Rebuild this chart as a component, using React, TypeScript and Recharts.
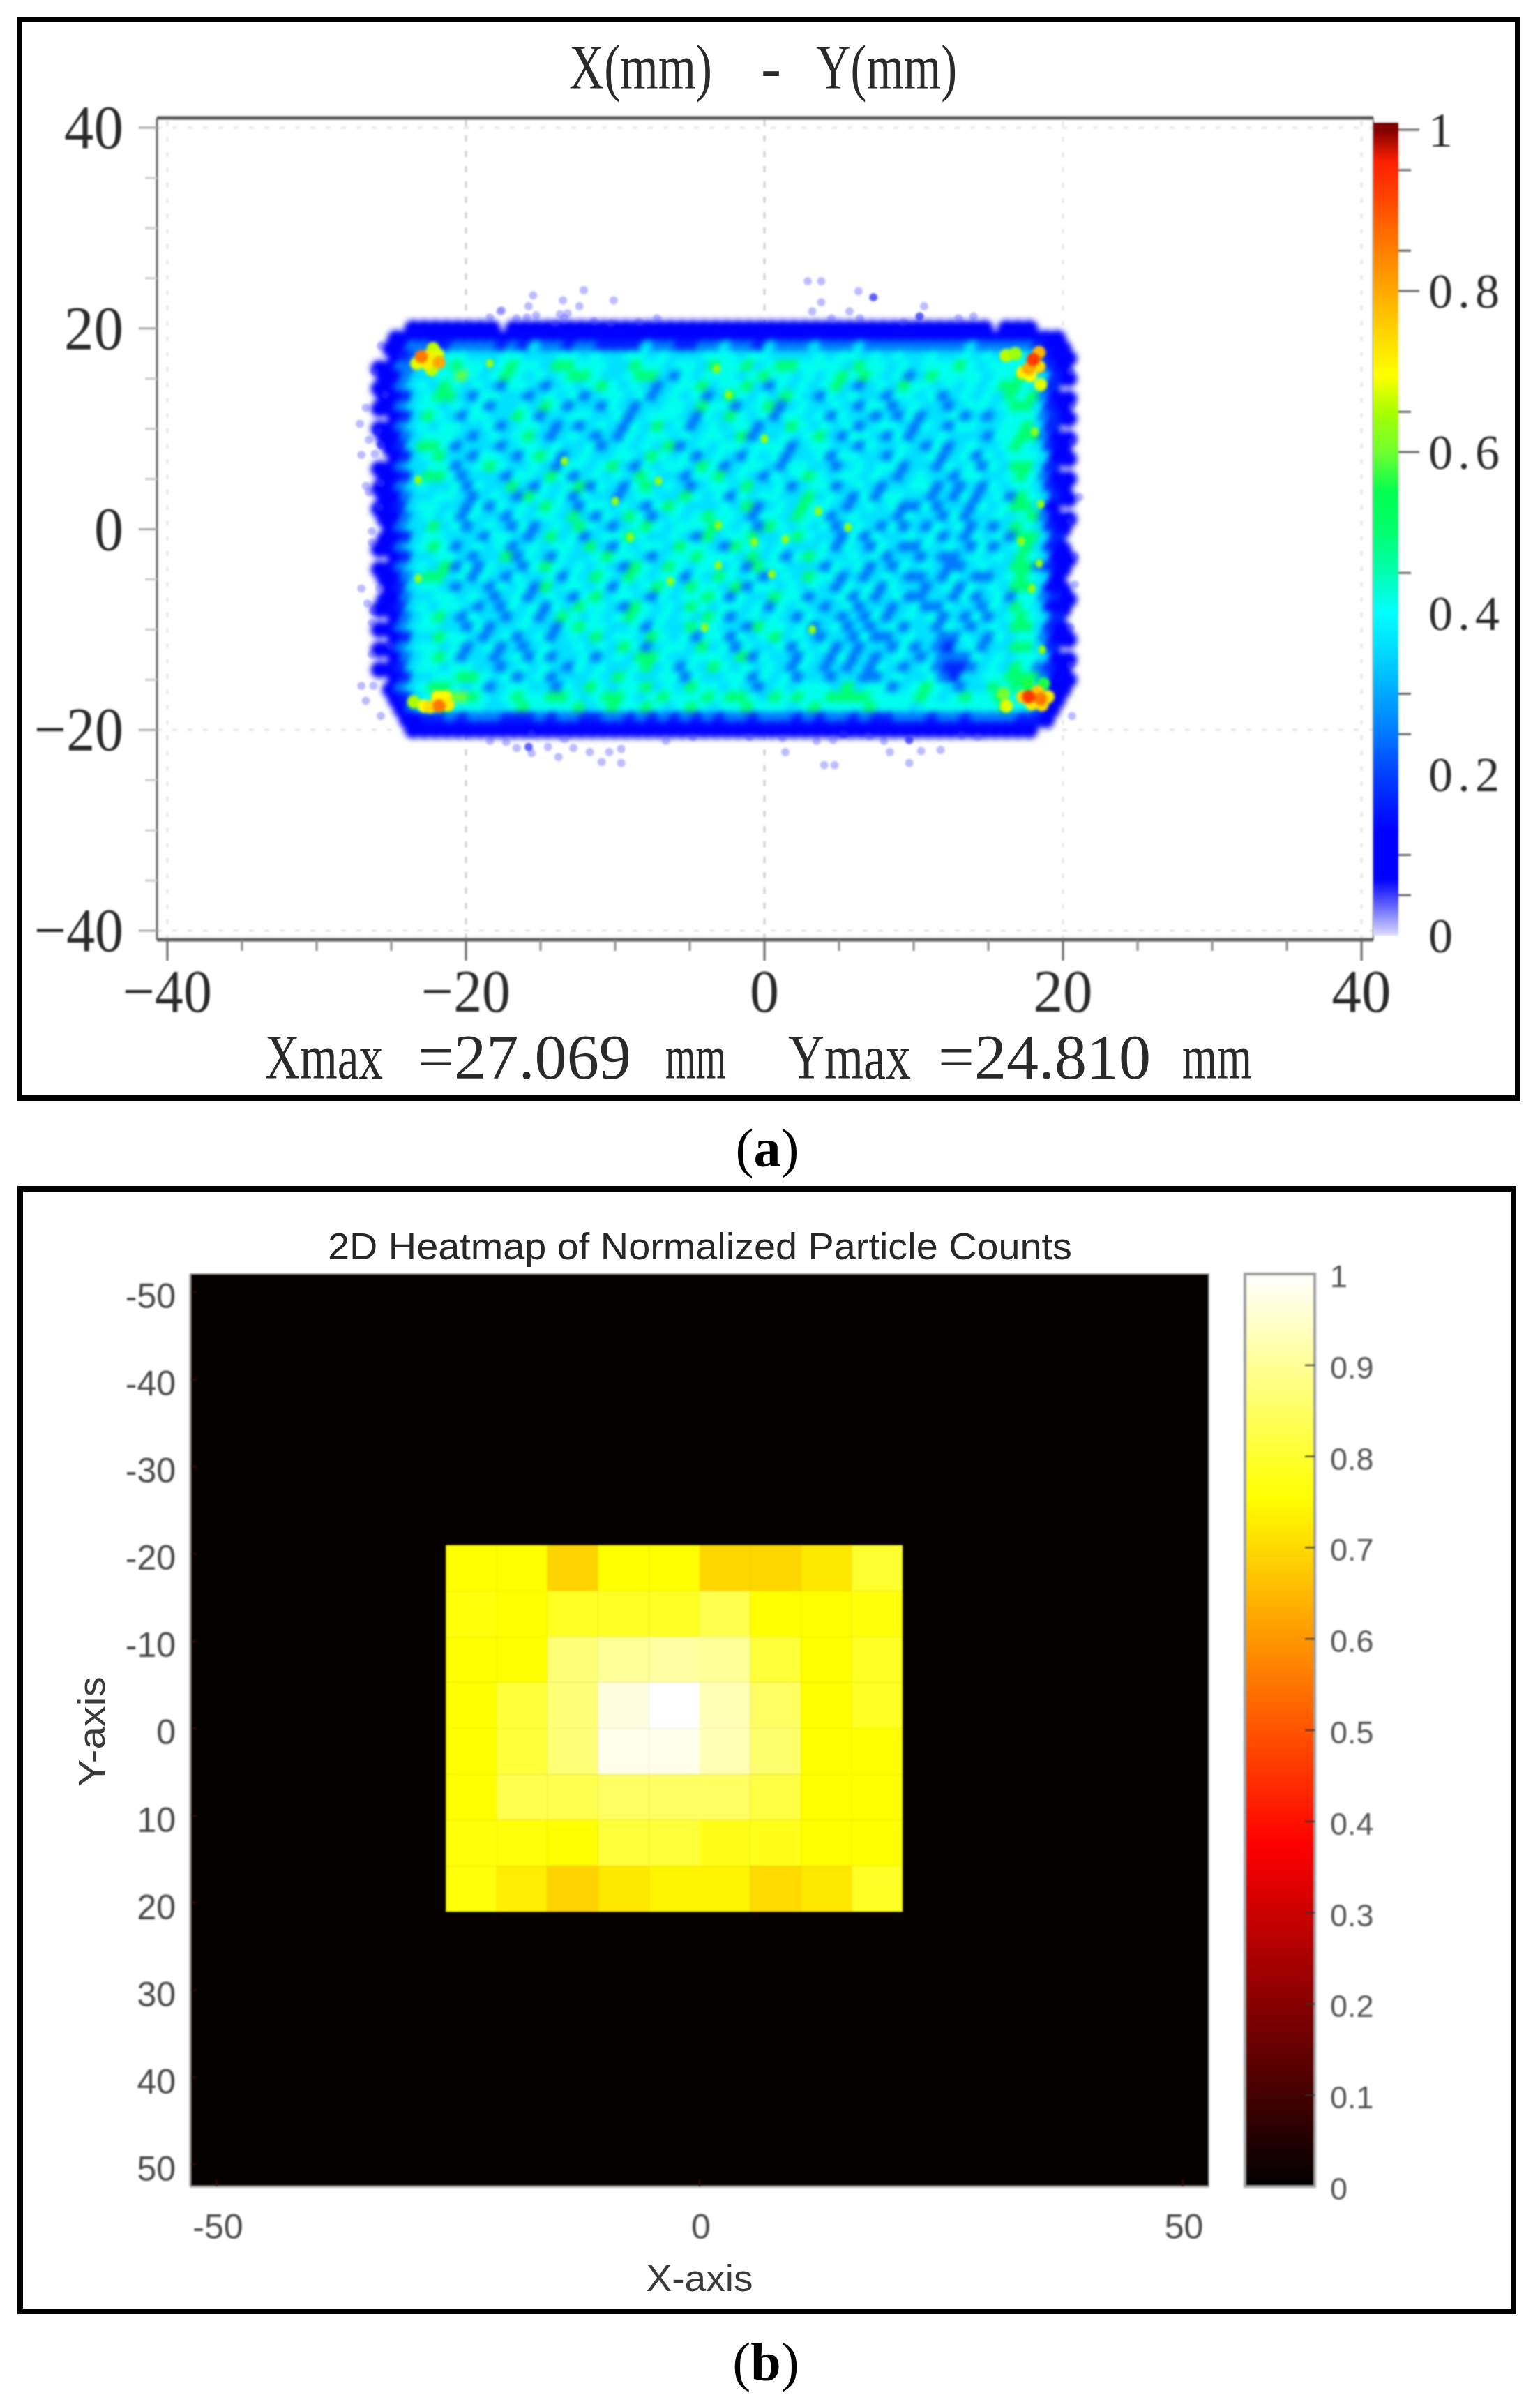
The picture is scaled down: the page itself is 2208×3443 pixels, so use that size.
import React from "react";
import { ScatterChart, Scatter, XAxis, YAxis, ReferenceLine, ReferenceArea, ComposedChart, Bar } from "recharts";

// ---------- panel (a) data ----------
const aMajor = [-40, -20, 0, 20, 40];
const aMinor = [-35, -30, -25, -15, -10, -5, 5, 10, 15, 25, 30, 35];
const aGridStrong = [-20, 0];
const aGridFaintX = [-40, 20, 40];
const aGridFaintY = [40, -20, -40];
const jetLabels = [1, 0.8, 0.6, 0.4, 0.2, 0];
const jetTickMarks = [0.95, 0.85, 0.65, 0.45, 0.3, 0.25, 0.1, 0.05];
const jetStops: [number, string][] = [
  [0, "#dcdcff"], [0.04, "#5a5aff"], [0.07, "#0000ff"], [0.13, "#0000ff"], [0.2, "#0040ff"], [0.25, "#0078ff"],
  [0.3, "#00a8ff"], [0.35, "#00d8ff"], [0.4, "#00ffff"], [0.45, "#00ffb0"], [0.5, "#00ff70"], [0.55, "#00ff50"],
  [0.6, "#70ff30"], [0.65, "#a8ff00"], [0.695, "#ffff00"], [0.735, "#ffe000"], [0.8, "#ffa800"], [0.85, "#ff8000"],
  [0.92, "#ff4000"], [0.96, "#ff2000"], [0.98, "#c01000"], [1, "#800000"],
];
const levels: Record<string, number> = { "1": 0.08, "2": 0.17, "3": 0.25, "4": 0.36, "5": 0.41, "6": 0.5, "7": 0.6 };
// level per 0.75 mm x 1 mm cell; spaces only group columns
const densityRows = [
  "...1111111 1.11111111 1111111111 1111111111 1111111111 11111.111. ..",
  ".111111111 1111111111 1111111111 1111111111 1111111111 1111111111 1.",
  ".113322333 3232433233 2222433223 3433243334 3334333333 3334333332 11",
  ".123445544 4554445545 4455454445 5545544445 4554545445 4454545542 11",
  "1133455655 4565546655 5446554554 6556456655 5546554545 5565455553 21",
  "1134455754 5654545665 4456643545 5545655454 5656545346 5555455654 21",
  "1134546545 4355434545 6545434556 4556435454 5643454655 4545456654 2.",
  "1124566435 5443454534 5545345453 4654546543 5454435545 3454546563 11",
  "1134554545 3445465344 3543445546 5534563454 4543553454 4345545664 21",
  ".124654355 4465344554 4534555435 4654535545 3544343534 4534345553 21",
  "1134545544 5345543434 5435464534 5455344654 5453455435 4355445564 2.",
  "1134555434 5456434543 4354554545 5463445456 4355435344 5444355663 11",
  ".124665344 4345545445 3454546345 4554555345 5443544543 5345445654 21",
  ".124564435 5435653454 4554654534 5435453445 3554435445 3453545554 11",
  "1134455345 6544543554 5643545546 5345543554 4345455344 3545354664 2.",
  "1124665344 4355465345 4546544355 6454354565 4554543454 4355445653 11",
  "1134544535 4464354563 5435645434 5546445345 5345434455 3434354554 21",
  "1134455434 5436545354 4345544654 5354554464 5435355443 4353453654 21",
  "1124554435 3545465435 5454356544 4546345465 5434545335 3443545664 1.",
  "1134545354 4354554643 5465345456 5543554655 3454443544 3534454563 11",
  ".134464534 5435345465 4345654555 6545365454 5345435343 5453434654 21",
  "1124554443 5543464534 5565445436 4556445654 4353544545 3435453664 2.",
  "1134565345 4534545546 4354554655 4365545444 5354354335 4543534564 21",
  ".124455434 4635435445 6554345565 5546453565 4454534434 3345454654 11",
  "1134546353 5443565454 5436546545 5453655444 3545343545 4334544663 21",
  "1134664535 4354453546 5465455354 6545345465 5343454334 3543345654 1.",
  ".124554344 3545364554 5354565465 5463554545 4354535443 4535454664 11",
  "1134455454 3453454356 4554354556 5354465534 4535345334 4353453553 21",
  "1124545543 4354535465 5436545465 4554535454 3453443453 3544354654 11",
  ".134564354 4345346545 4565454546 5345454354 4343534545 3435345654 2.",
  "1134554435 3445443565 5445354465 5443655453 4534345344 3543454664 21",
  ".124465543 4534534546 4554654535 5354564543 4435334544 3354354553 11",
  "1134554534 5343454454 5465345546 4535445354 5343443534 3245344664 2.",
  ".134565344 3453534453 4546654455 5463544354 3534345434 3335454554 11",
  "1124554554 4345454354 5445645354 6545454354 3434354345 3223454653 21",
  ".124455665 4534534445 4654455354 4553545344 3443345445 3244556663 11",
  ".134566545 3455443546 5455645465 5454345455 5464553456 5434465654 11",
  ".124567765 4565566545 6654565556 5665465655 6666555565 4565565564 1.",
  "..13556555 4456555564 5655654565 4556555456 5555655545 5555556553 1.",
  "..11223233 3222323322 3323232323 2332333232 3323223332 3323333221 ..",
  "...1111111 1111111111 1111111111 1111111111 1111111111 111111111. ..",
];
const cornerSpots: [number, number, number][] = [
  [-22.2, 18, 0.66], [-23.3, 16.5, 0.68], [-22.3, 15.9, 0.66], [-21.9, 17.4, 0.68], [-22.6, 16.5, 0.72], [-22.6, 17.2, 0.72], [-21.8, 16.6, 0.8], [-23, 17.2, 0.86],
  [16.2, 17.3, 0.66], [16.8, 17.5, 0.64], [18.5, 14.4, 0.68], [17.3, 15.6, 0.72], [17.8, 15.3, 0.7], [18.4, 16.2, 0.74], [18.4, 17.6, 0.78], [17.7, 16, 0.8], [18, 16.9, 0.93],
  [-23.5, -17.2, 0.65], [-21.9, -16.7, 0.7], [-21.4, -16.7, 0.7], [-22.8, -17.6, 0.7], [-21.2, -17.5, 0.72], [-22.4, -17.7, 0.74], [-21.8, -17.6, 0.86],
  [17.6, -15.4, 0.56], [18.7, -15.4, 0.56], [16, -16.4, 0.6], [16.2, -17.6, 0.68], [17.9, -17.4, 0.72], [19, -16.7, 0.72], [18.6, -17.5, 0.74], [17.3, -16.7, 0.75], [18.3, -16.2, 0.76], [18.5, -16.9, 0.86], [17.7, -16.7, 0.93],
];
const specks: [number, number][] = [
  [-18.4, 16.5], [-7.1, 4.8], [-13.4, 6.8], [-10, 2.8], [-23.2, 4.9], [-9, -0.8], [-6.3, -5.2], [-23.2, -4.9], [-4, -9.8], [-3.1, -3.6],
  [-3.2, 16], [-2.4, 13.4], [0, 9], [3.6, 1.8], [5.6, 0.2], [1.4, -1], [-3.1, 0.4], [18.1, 9.7], [18.5, 2.5], [17.2, -1.2], [18.4, -3.4],
  [17.9, -5.9], [18.6, -12], [-0.7, -1.3], [0.5, -4.5], [3.2, -10],
];
const faintStrays: [number, number][] = [
  [-17.6, 21.8], [-18.4, 21.1], [-16.6, 21], [-15.3, 21.3], [-15.9, 21.1], [-13.7, 21.4], [-13.4, 21], [-14, 20.5], [-11.4, 20.7], [-10.3, 20.5], [-8.4, 20.6], [-7.2, 21],
  [-12.1, 23.8], [-15.5, 23.3], [-15.8, 22.2], [-13.5, 22.8], [-12.4, 22.2], [-10.1, 22.8], [-17.7, 21.7], [-13.2, 21.5],
  [2.9, 24.7], [3.8, 24.7], [6.3, 23.7], [3.8, 22.6], [3.2, 21.7], [5.7, 21.7], [4.5, 21], [6.4, 21], [10.7, 22.2], [9.3, 20.6], [13, 21], [14, 21.2],
  [-25.7, 18.3], [-26.1, 15.7], [-25.4, 13.4], [-26.7, 12.1], [-27.1, 10.5], [-26.5, 8.9], [-27, 7.4], [-26.1, 7.5], [-25.7, 4.6], [-26.5, 3.7], [-26.7, 4.3], [-25.8, 2.2], [-26.3, -0.2],
  [-26.3, -1.3], [-27, -5.9], [-25.8, -5.9], [-26.6, -7.4], [-26.2, -8.1], [-26.3, -9.3], [-25.1, -11.6], [-26.3, -12.5], [-27, -15.6], [-26.2, -15.6], [-26.7, -17.1], [-25.7, -18.6],
  [-18.4, -21.1], [-17.3, -21.2], [-16.6, -21.8], [-15.6, -22.3], [-14.5, -21.7], [-13.8, -22.7], [-12.8, -21.8], [-11.7, -22.2], [-10.4, -22.2], [-9.6, -21.9], [-9.6, -23.3], [-10.9, -23.2], [-13.4, -20.9], [-15.6, -20.4], [-6.6, -21.1], [-4.8, -20.7],
  [-1, -20.7], [1.2, -20.8], [1.4, -22.2], [3.5, -21.1], [4.6, -21], [7, -20.6], [8, -21.1], [8.4, -22.2], [10.5, -22.1], [11.8, -22], [9.7, -23.3], [4, -23.5], [4.7, -23.5], [13.2, -20.5], [14.3, -20.7],
  [20.5, 15.7], [20.6, 12.3], [20.6, 8.7], [21.1, 3.2], [20.5, 0.8], [20.8, -2.7], [20.8, -5.5], [20.5, -9.8], [20.5, -13.5], [20.6, -18.6],
];
const darkStrays: [number, number][] = [
  [-25.9, 9.8], [-25.7, 8.4], [7.3, 23.1], [10.4, 21.2], [-15.8, -21.7], [5.3, -20.4], [9.7, -21],
];
const aFooter: [string, number, number][] = [
  ["Xmax", 380, 169], ["=27.069", 599, 306], ["mm", 954, 87], ["Ymax", 1130, 176], ["=24.810", 1345, 305], ["mm", 1695, 100],
];

// ---------- panel (b) data ----------
const bXTicks = [-50, 0, 50];
const bYTicks = [-50, -40, -30, -20, -10, 0, 10, 20, 30, 40, 50];
const hotLabels = [1, 0.9, 0.8, 0.7, 0.6, 0.5, 0.4, 0.3, 0.2, 0.1, 0];
const hotStops: [number, string][] = [[0, "#000000"], [0.375, "#ff0000"], [0.755, "#ffff00"], [1, "#ffffff"]];
const binEdgesX = [-26.25, -21, -15.75, -10.5, -5.25, 0, 5.25, 10.5, 15.75, 21];
const binEdgesY = [-21, -15.75, -10.5, -5.25, 0, 5.25, 10.5, 15.75, 21];
const countRows = [
  [0.755, 0.755, 0.69, 0.755, 0.755, 0.695, 0.695, 0.72, 0.8],
  [0.765, 0.755, 0.79, 0.79, 0.79, 0.83, 0.755, 0.755, 0.765],
  [0.755, 0.755, 0.87, 0.9, 0.91, 0.9, 0.81, 0.755, 0.79],
  [0.755, 0.81, 0.87, 0.97, 1, 0.93, 0.85, 0.755, 0.79],
  [0.755, 0.81, 0.87, 0.98, 0.98, 0.93, 0.86, 0.755, 0.755],
  [0.755, 0.83, 0.83, 0.85, 0.85, 0.85, 0.82, 0.755, 0.755],
  [0.765, 0.765, 0.755, 0.81, 0.81, 0.78, 0.78, 0.755, 0.755],
  [0.765, 0.73, 0.69, 0.72, 0.74, 0.74, 0.7, 0.72, 0.79],
];

// ---------- helpers ----------
const rgb = (h: string) => [1, 3, 5].map((i) => parseInt(h.slice(i, i + 2), 16));
function mapColor(stops: [number, string][], v: number) {
  for (let i = 1; i < stops.length; i++) {
    if (v <= stops[i][0]) {
      const [a, ca] = stops[i - 1];
      const [b, cb] = stops[i];
      const t = (v - a) / (b - a);
      const A = rgb(ca);
      const B = rgb(cb);
      return `rgb(${A.map((c, k) => Math.round(c + (B[k] - c) * t)).join(",")})`;
    }
  }
  return stops[stops.length - 1][1];
}

const SERIF = "'Liberation Serif', serif";
const SANS = "'Liberation Sans', sans-serif";
const W = 2208;

// (a) geometry
const aH = 1700;
const aMargin = { top: 169, right: W - 1969, bottom: aH - 1347, left: 225 };
const aAxisMargin = { top: 169, right: W - 1969, bottom: aH - 1347 - 150, left: 25 };
const aDomX: [number, number] = [-40.7, 40.79];
const aDomY: [number, number] = [-40.9, 40.97];
const pxX = 21.4;
const pxY = 14.39;
const cellMmX = 0.75;

// odd rows sit half a cell over, so the field has no square lattice look
const heatCells = densityRows.flatMap((row, r) =>
  row.replace(/ /g, "").split("").flatMap((ch, c) =>
    levels[ch] === undefined ? [] : [{ x: -26.15 + (c + 0.5 + (r % 2) * 0.5) * cellMmX, y: 20.5 - (r + 0.5), v: levels[ch] }]
  )
);
const speckPoints = specks.map(([x, y]) => ({ x, y, v: 0.63 }));
const cornerPoints = cornerSpots.map(([x, y, v]) => ({ x, y, v }));
const toPts = (a: [number, number][]) => a.map(([x, y]) => ({ x, y }));

const CellShape = (p: any) => (
  <ellipse cx={p.cx} cy={p.cy} rx={(cellMmX * pxX) / 2 + 5} ry={pxY / 2 + 5} fill={mapColor(jetStops, p.payload?.v ?? p.v)} />
);
const SpeckShape = (p: any) => <ellipse cx={p.cx} cy={p.cy} rx={5.5} ry={6.5} fill={mapColor(jetStops, p.payload?.v ?? p.v)} />;
const CornerShape = (p: any) => <circle cx={p.cx} cy={p.cy} r={9.5} fill={mapColor(jetStops, p.payload?.v ?? p.v)} />;
const FaintShape = (p: any) => <circle cx={p.cx} cy={p.cy} r={6} fill="rgba(70,70,255,0.36)" />;
const DarkShape = (p: any) => <circle cx={p.cx} cy={p.cy} r={6} fill="rgba(30,30,255,0.7)" />;

const serifText = (x: number, y: number, s: string, len: number, size: number, anchor = "middle", spacing = false, key?: any) => (
  <text key={key} x={x} y={y} fontFamily={SERIF} fontSize={size} fill="#2a2a2a" textAnchor={anchor} textLength={len} lengthAdjust={spacing ? "spacing" : "spacingAndGlyphs"}>
    {s}
  </text>
);
const fmtA = (v: number) => (v < 0 ? `\u2212${Math.abs(v)}` : `${v}`);
const widthA = (v: number) => (v < 0 ? 128 : Math.abs(v) >= 10 ? 85 : 42);

const AXTick = (p: any) => {
  const v = p.payload.value;
  const major = aMajor.includes(v);
  return (
    <g>
      <line x1={p.x} x2={p.x} y1={1347} y2={1347 + (major ? 30 : 16)} stroke={major ? "#666" : "#8a8a8a"} strokeWidth={3} />
      {major && serifText(p.x, 1450, fmtA(v), widthA(v), 86)}
    </g>
  );
};
const AYTick = (p: any) => {
  const v = p.payload.value;
  const major = aMajor.includes(v);
  return (
    <g>
      <line x1={225 - (major ? 26 : 17)} x2={225} y1={p.y} y2={p.y} stroke={major ? "#aaa" : "#ccc"} strokeWidth={3} />
      {major && serifText(177, p.y + 29, fmtA(v), widthA(v), 88, "end")}
    </g>
  );
};
const JetTick = (p: any) => {
  const v = p.payload.value;
  const labelled = jetLabels.includes(v);
  const visible = jetTickMarks.includes(v) || v === 1 || v === 0.8 || v === 0.6;
  return (
    <g>
      {visible && <line x1={2005} x2={2005 + (labelled ? 30 : 18)} y1={p.y} y2={p.y} stroke="#666" strokeWidth={3} />}
      {labelled && serifText(2048, p.y + 24, `${v}`, v === 1 || v === 0 ? 34 : 102, 70, "start", true)}
    </g>
  );
};

// (b) geometry
const bH = 3443;
const bAxisMargin = { top: 1826, right: W - 1733, bottom: bH - 3134 - 150, left: 73 };
const bDomX: [number, number] = [-52.7, 52.7];
const bDomY: [number, number] = [-52.1, 52.5];

const BXTick = (p: any) => (
  <g>
    <line x1={p.x} x2={p.x} y1={3134} y2={3124} stroke="#3a0d0d" strokeWidth={2} />
    <text x={p.x + 2} y={3209} textAnchor="middle" fontFamily={SANS} fontSize={50} fill="#4a4a4a">{p.payload.value}</text>
  </g>
);
const BYTick = (p: any) => (
  <g>
    <line x1={274} x2={282} y1={p.y} y2={p.y} stroke="#3a0d0d" strokeWidth={2} />
    <text x={252} y={p.y + 23} textAnchor="end" fontFamily={SANS} fontSize={50} fill="#4a4a4a">{p.payload.value}</text>
  </g>
);
const HotTick = (p: any) => {
  const v = p.payload.value;
  return (
    <g>
      {v > 0 && v < 1 && <line x1={1871} x2={1885} y1={p.y} y2={p.y} stroke="#333" strokeWidth={2} />}
      <text x={1907} y={p.y + 19} fontFamily={SANS} fontSize={45} fill="#555">{v}</text>
    </g>
  );
};

const layer = (blur: number): React.CSSProperties => ({ position: "absolute", left: 0, top: 0, filter: blur ? `blur(${blur}px)` : undefined });
const frame = (l: number, t: number, r: number, b: number, bw: number): React.CSSProperties => ({
  position: "absolute", left: l, top: t, width: r - l - 2 * bw, height: b - t - 2 * bw, border: `${bw}px solid #000`,
});

const HeatLayer = ({ data, shape, blur }: any) => (
  <div style={layer(blur)}>
    <ScatterChart width={W} height={aH} margin={aMargin}>
      <XAxis type="number" dataKey="x" domain={aDomX} hide allowDataOverflow />
      <YAxis type="number" dataKey="y" domain={aDomY} hide allowDataOverflow />
      <Scatter data={data} shape={shape} isAnimationActive={false} />
    </ScatterChart>
  </div>
);

export default function App() {
  const aTicks = [...aMajor, ...aMinor].sort((a, b) => a - b);
  return (
    <div style={{ position: "absolute", left: 0, top: 0, width: W, height: bH, background: "#fff", overflow: "hidden" }}>
      <div style={frame(24, 24, 2180, 1578, 8)} />
      <div style={frame(25, 1700, 2174, 3317, 8)} />

      {/* panel (a): axes and grid */}
      <div style={layer(0.8)}>
        <ScatterChart width={W} height={aH} margin={aAxisMargin}>
          <XAxis type="number" dataKey="x" domain={aDomX} ticks={aTicks} interval={0} tickSize={0} tickMargin={0} height={150} axisLine={{ stroke: "#5a5a5a", strokeWidth: 5 }} tickLine={false} tick={AXTick} allowDataOverflow />
          <YAxis type="number" dataKey="y" domain={aDomY} ticks={aTicks} interval={0} tickSize={0} tickMargin={0} width={200} axisLine={{ stroke: "#666", strokeWidth: 3 }} tickLine={false} tick={AYTick} allowDataOverflow />
          {aGridStrong.map((v) => <ReferenceLine key={`s${v}`} x={v} stroke="#cfcfcf" strokeWidth={3} strokeDasharray="9 13" />)}
          {aGridFaintX.map((v) => <ReferenceLine key={`fx${v}`} x={v} stroke="#e6e6e6" strokeWidth={3} strokeDasharray="7 15" />)}
          {aGridFaintY.map((v) => <ReferenceLine key={`fy${v}`} y={v} stroke="#e6e6e6" strokeWidth={3} strokeDasharray="7 15" />)}
          <ReferenceLine y={aDomY[1]} stroke="#5a5a5a" strokeWidth={5} />
          <ReferenceLine x={aDomX[1]} stroke="#888" strokeWidth={2} />
          <Scatter data={[]} isAnimationActive={false} />
        </ScatterChart>
      </div>

      {/* panel (a): density field */}
      <HeatLayer data={heatCells} shape={CellShape} blur={4.5} />
      <HeatLayer data={toPts(faintStrays)} shape={FaintShape} blur={1.5} />
      <HeatLayer data={toPts(darkStrays)} shape={DarkShape} blur={1.5} />
      <HeatLayer data={speckPoints} shape={SpeckShape} blur={2} />
      <HeatLayer data={cornerPoints} shape={CornerShape} blur={2} />

      {/* panel (a): colour bar */}
      <div style={layer(0.8)}>
        <ComposedChart width={W} height={aH} margin={{ top: 176, right: W - 2005 - 170, bottom: aH - 1341, left: 1969 }} data={[{ name: "bar", v: 1.0087 }]} barCategoryGap={0}>
          <defs>
            <linearGradient id="jetGrad" x1="0" y1="0" x2="0" y2="1">
              {[...jetStops].reverse().map(([v, c]) => <stop key={v} offset={1 - v / 1.0087} stopColor={c} />)}
            </linearGradient>
          </defs>
          <XAxis dataKey="name" hide />
          <YAxis type="number" orientation="right" width={170} domain={[0, 1.0087]} ticks={[...jetLabels, ...jetTickMarks]} interval={0} tickSize={0} tickMargin={0} axisLine={false} tickLine={false} tick={JetTick} allowDataOverflow />
          <Bar dataKey="v" fill="url(#jetGrad)" isAnimationActive={false} />
        </ComposedChart>
      </div>

      {/* panel (b): heat map */}
      <div style={layer(1)}>
        <ScatterChart width={W} height={bH} margin={bAxisMargin}>
          <XAxis type="number" dataKey="x" domain={bDomX} ticks={bXTicks} interval={0} tickSize={0} tickMargin={0} height={150} axisLine={{ stroke: "#999", strokeWidth: 3 }} tickLine={false} tick={BXTick} allowDataOverflow />
          <YAxis type="number" dataKey="y" domain={bDomY} reversed ticks={bYTicks} interval={0} tickSize={0} tickMargin={0} width={200} axisLine={{ stroke: "#999", strokeWidth: 3 }} tickLine={false} tick={BYTick} allowDataOverflow />
          <ReferenceArea x1={bDomX[0]} x2={bDomX[1]} y1={bDomY[0]} y2={bDomY[1]} fill="#050000" fillOpacity={1} stroke="#999" strokeWidth={2} />
          {countRows.flatMap((row, r) =>
            row.map((v, c) => (
              <ReferenceArea key={`${r}-${c}`} x1={binEdgesX[c]} x2={binEdgesX[c + 1]} y1={binEdgesY[r]} y2={binEdgesY[r + 1]} fill={mapColor(hotStops, v)} fillOpacity={1} stroke={mapColor(hotStops, v)} strokeWidth={0.5} />
            ))
          )}
          <Scatter data={[]} isAnimationActive={false} />
        </ScatterChart>
      </div>

      {/* panel (b): colour bar */}
      <div style={layer(0.8)}>
        <ComposedChart width={W} height={bH} margin={{ top: 1826, right: W - 1885 - 150, bottom: bH - 3134, left: 1785 }} data={[{ name: "bar", v: 1 }]} barCategoryGap={0}>
          <defs>
            <linearGradient id="hotGrad" x1="0" y1="0" x2="0" y2="1">
              {[...hotStops].reverse().map(([v, c]) => <stop key={v} offset={1 - v} stopColor={c} />)}
            </linearGradient>
          </defs>
          <XAxis dataKey="name" hide />
          <YAxis type="number" orientation="right" width={150} domain={[0, 1]} ticks={hotLabels} interval={0} tickSize={0} tickMargin={0} axisLine={false} tickLine={false} tick={HotTick} />
          <Bar dataKey="v" fill="url(#hotGrad)" stroke="#a0a0a0" strokeWidth={4} isAnimationActive={false} />
        </ComposedChart>
      </div>

      {/* titles and captions */}
      <svg width={W} height={bH} style={{ position: "absolute", left: 0, top: 0, filter: "blur(0.7px)", pointerEvents: "none" }}>
        {serifText(816, 127, "X(mm)", 205, 90, "start")}
        {serifText(1091, 127, "-", 29, 90, "start")}
        {serifText(1170, 127, "Y(mm)", 202, 90, "start")}
        {aFooter.map(([s, x, len], i) => serifText(x, 1546, s, len, 90, "start", false, i))}
        <text x={1100} y={1672} textAnchor="middle" fontFamily={SERIF} fontSize={78} fill="#000">(<tspan fontWeight="bold">a</tspan>)</text>
        <text x={1098} y={3412} textAnchor="middle" fontFamily={SERIF} fontSize={78} fill="#000">(<tspan fontWeight="bold">b</tspan>)</text>
        <text x={470} y={1805} fontFamily={SANS} fontSize={54} fill="#262626" textLength={1067} lengthAdjust="spacingAndGlyphs">2D Heatmap of Normalized Particle Counts</text>
        <text x={1003} y={3284} textAnchor="middle" fontFamily={SANS} fontSize={54} fill="#3a3a3a" textLength={153} lengthAdjust="spacingAndGlyphs">X-axis</text>
        <text transform="translate(150,2482) rotate(-90)" textAnchor="middle" fontFamily={SANS} fontSize={54} fill="#3a3a3a" textLength={158} lengthAdjust="spacingAndGlyphs">Y-axis</text>
      </svg>
    </div>
  );
}
